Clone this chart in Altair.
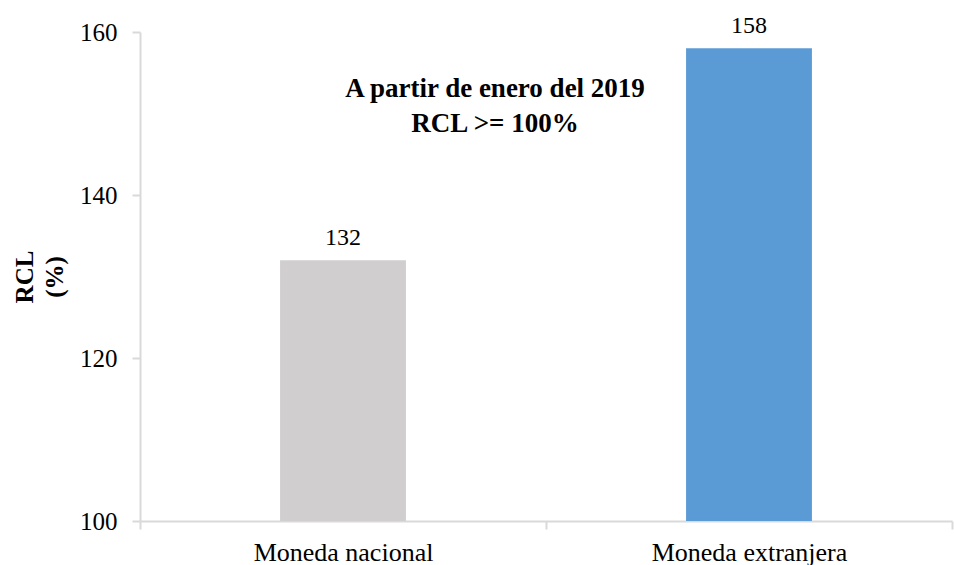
import altair as alt
import pandas as pd

categories = ["Moneda nacional", "Moneda extranjera"]
values = [132, 158]
colors = ["#d0cece", "#5b9bd5"]
note_lines = ["A partir de enero del 2019", "RCL >= 100%"]
note_y = [154.6]

df = pd.DataFrame({"cat": categories, "val": values, "color": colors})
FONT = "Liberation Serif"

x = alt.X("cat:N", sort=categories, title=None,
          scale=alt.Scale(paddingInner=0, paddingOuter=0),
          axis=alt.Axis(labelAngle=0, labelFontSize=26, labelFont=FONT, labelColor="#000",
                        labelPadding=10, labelLimit=0, tickBand="extent", tickSize=8,
                        domainColor="#d9d9d9", tickColor="#d9d9d9", domainWidth=2, tickWidth=2))
y = alt.Y("val:Q", title=["RCL", "(%)"],
          scale=alt.Scale(domain=[100, 160], nice=False, zero=False),
          axis=alt.Axis(values=[100, 120, 140, 160], grid=False, labelFontSize=25,
                        labelFont=FONT, labelColor="#000", tickSize=8, labelPadding=15,
                        domainColor="#d9d9d9", tickColor="#d9d9d9", domainWidth=2, tickWidth=2,
                        titleFont=FONT, titleFontSize=25, titleFontWeight="bold",
                        titleColor="#000", titlePadding=12, titleLineHeight=30))

base = alt.Chart(df)
bars = base.mark_bar(clip=True, width=alt.RelativeBandSize(0.31)).encode(
    x=x, y=y, color=alt.Color("color:N", scale=None))
labels = base.mark_text(font=FONT, fontSize=24, dy=-15, baseline="alphabetic", color="#000").encode(
    x=alt.X("cat:N", sort=categories), y="val:Q", text=alt.Text("val:Q"))

note_df = pd.DataFrame({"y": note_y, "t": [note_lines]})
note = alt.Chart(note_df).mark_text(font=FONT, fontSize=27, fontWeight="bold", baseline="top",
                                    align="center", lineHeight=35, color="#000").encode(
    x=alt.value(355), y="y:Q", text="t")

chart = alt.layer(bars, labels, note).properties(
    width=812, height=489,
    autosize=alt.AutoSizeParams(type="none"),
    padding={"left": 140, "top": 32, "right": 2, "bottom": 44},
).configure_view(stroke=None)

chart.save("out.html", embed_options={"renderer": "svg", "actions": False})
